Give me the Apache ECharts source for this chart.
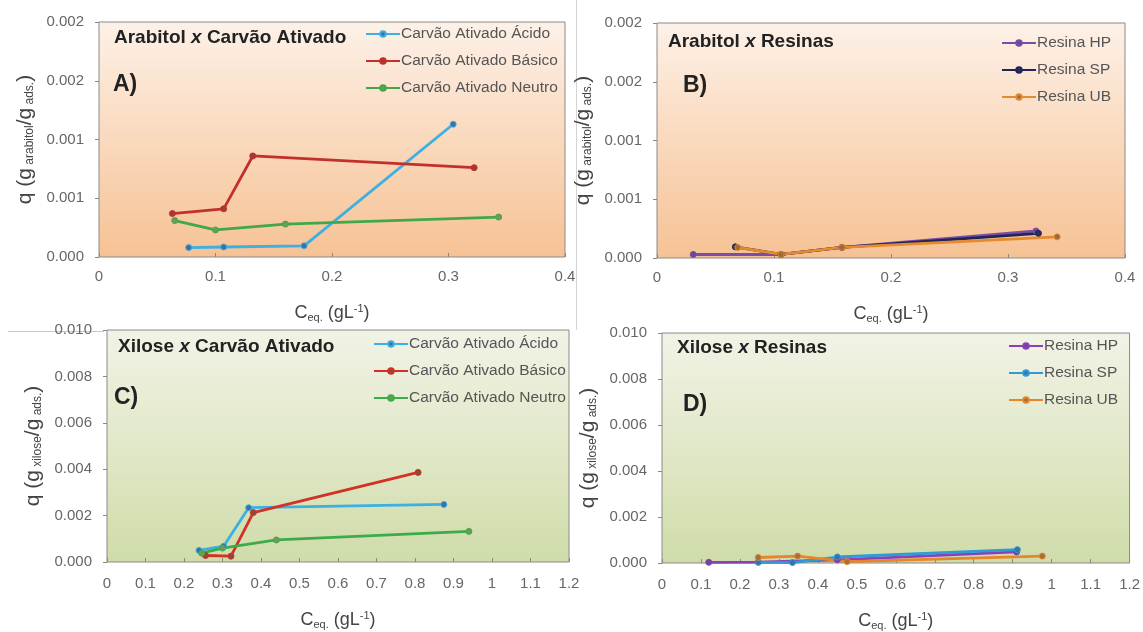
<!DOCTYPE html>
<html>
<head>
<meta charset="utf-8">
<script src="https://cdn.jsdelivr.net/npm/echarts@6/dist/echarts.min.js"></script>
<style>
html,body{margin:0;padding:0;background:#fff;}
#c{width:1143px;height:632px;}
</style>
</head>
<body>
<div id="c"></div>
<script>
// ---- Data ----
// Panel A: Arabitol x Carvão Ativado
const aAcidoX  = [0.077, 0.107, 0.176, 0.304];
const aAcidoY  = [0.00008, 0.000085, 0.000095, 0.00113];
const aBasicoX = [0.063, 0.107, 0.132, 0.322];
const aBasicoY = [0.00037, 0.00041, 0.00086, 0.00076];
const aNeutroX = [0.065, 0.100, 0.160, 0.343];
const aNeutroY = [0.00031, 0.00023, 0.00028, 0.00034];
// Panel B: Arabitol x Resinas
const bHPX = [0.031, 0.106, 0.158, 0.324];
const bHPY = [0.00003, 0.00003, 0.00009, 0.00023];
const bSPX = [0.067, 0.106, 0.158, 0.326];
const bSPY = [0.000095, 0.00003, 0.00009, 0.00021];
const bUBX = [0.069, 0.106, 0.158, 0.342];
const bUBY = [0.00009, 0.00003, 0.00009, 0.00018];
// Panel C: Xilose x Carvão Ativado
const cAcidoX  = [0.239, 0.303, 0.368, 0.875];
const cAcidoY  = [0.0005, 0.00068, 0.00234, 0.00248];
const cBasicoX = [0.256, 0.322, 0.380, 0.808];
const cBasicoY = [0.00028, 0.00025, 0.00213, 0.00386];
const cNeutroX = [0.246, 0.300, 0.440, 0.940];
const cNeutroY = [0.00038, 0.0006, 0.00095, 0.00132];
// Panel D: Xilose x Resinas
const dHPX = [0.12, 0.247, 0.45, 0.91];
const dHPY = [0.00003, 0.00004, 0.00014, 0.00048];
const dSPX = [0.247, 0.335, 0.45, 0.912];
const dSPY = [0.00003, 0.00002, 0.00026, 0.00058];
const dUBX = [0.247, 0.348, 0.475, 0.976];
const dUBY = [0.00024, 0.0003, 0.00006, 0.0003];

// Tick labels
const xTicksAB = ['0', '0.1', '0.2', '0.3', '0.4'];
const xTicksCD = ['0', '0.1', '0.2', '0.3', '0.4', '0.5', '0.6', '0.7', '0.8', '0.9', '1', '1.1', '1.2'];
const yTicksAB = ['0.000', '0.001', '0.001', '0.002', '0.002'];
const yTicksCD = ['0.000', '0.002', '0.004', '0.006', '0.008', '0.010'];

const seriesNamesCarvao = ['Carvão Ativado Ácido', 'Carvão Ativado Básico', 'Carvão Ativado Neutro'];
const seriesNamesResina = ['Resina HP', 'Resina SP', 'Resina UB'];

// ---- Chart ----
const chart = echarts.init(document.getElementById('c'), null, {renderer: 'canvas'});
const zip = (xs, ys) => xs.map((x, i) => [x, ys[i]]);
const FONT = 'Liberation Sans, Arial, sans-serif';

const grids = [
  {left: 99,  top: 22,  width: 466, height: 235},
  {left: 657, top: 23,  width: 468, height: 235},
  {left: 107, top: 330, width: 462, height: 232},
  {left: 662, top: 333, width: 468, height: 234}
];
const orangeBg = new echarts.graphic.LinearGradient(0, 0, 0, 1, [
  {offset: 0, color: '#fdf1e8'}, {offset: 0.5, color: '#fad9bd'}, {offset: 1, color: '#f6c294'}]);
const greenBg = new echarts.graphic.LinearGradient(0, 0, 0, 1, [
  {offset: 0, color: '#f1f3e6'}, {offset: 0.5, color: '#e1e8c8'}, {offset: 1, color: '#cfdca9'}]);

const gridOpts = grids.map((g, i) => Object.assign({}, g, {
  show: true,
  backgroundColor: i < 2 ? orangeBg : greenBg,
  borderColor: '#8a8a8a',
  borderWidth: 1,
  containLabel: false
}));

function xAxis(i) {
  const ab = i < 2;
  const labels = ab ? xTicksAB : xTicksCD;
  return {
    type: 'value', gridIndex: i, min: 0, max: ab ? 0.4 : 1.2, interval: 0.1,
    name: '{n|C}{s|eq.}{n| (gL}{u|-1}{n|)}',
    nameLocation: 'middle', nameGap: ab ? 46 : 48,
    nameTextStyle: {
      rich: {
        n: {fontSize: 18, color: '#444', fontFamily: FONT},
        s: {fontSize: 11, color: '#444', fontFamily: FONT, padding: [9, 0, 0, 0]},
        u: {fontSize: 11, color: '#444', fontFamily: FONT, padding: [0, 0, 9, 0]}
      }
    },
    axisLine: {show: false},
    axisTick: {show: true, inside: true, length: 4, lineStyle: {color: '#888'}},
    splitLine: {show: false},
    axisLabel: {
      margin: ab ? 12 : 14, color: '#666', fontSize: 15, fontFamily: FONT,
      formatter: v => labels[Math.round(v / 0.1)]
    }
  };
}
function yAxis(i) {
  const ab = i < 2;
  const labels = ab ? yTicksAB : yTicksCD;
  const step = ab ? 0.0005 : 0.002;
  const sugar = ab ? 'arabitol' : 'xilose';
  return {
    type: 'value', gridIndex: i, min: 0, max: ab ? 0.002 : 0.010, interval: step,
    name: '{n|q (g}{s| ' + sugar + '}{n|/g}{s| ads.}{n|)}',
    nameLocation: 'middle', nameGap: 63,
    nameTextStyle: {
      rich: {
        n: {fontSize: 21, color: '#444', fontFamily: FONT},
        s: {fontSize: 12, color: '#444', fontFamily: FONT, padding: [10, 0, 0, 0]}
      }
    },
    axisLine: {show: false},
    axisTick: {show: true, inside: false, length: 4, lineStyle: {color: '#888'}},
    splitLine: {show: false},
    axisLabel: {
      margin: 15, color: '#666', fontSize: 15, fontFamily: FONT,
      formatter: v => labels[Math.round(v / step)]
    }
  };
}

function line(name, gi, xs, ys, lineColor, markColor) {
  return {
    type: 'line', name: name, xAxisIndex: gi, yAxisIndex: gi,
    data: zip(xs, ys),
    symbol: 'circle', symbolSize: 6, showSymbol: true,
    lineStyle: {color: lineColor, width: 2.8},
    itemStyle: {color: markColor, borderColor: lineColor, borderWidth: 1},
    emphasis: {disabled: true},
    z: 3
  };
}
const ZW = '\u200b';
const series = [
  line(seriesNamesCarvao[0], 0, aAcidoX, aAcidoY, '#3cb0e2', '#3d6ea8'),
  line(seriesNamesCarvao[1], 0, aBasicoX, aBasicoY, '#c3302b', '#a03a3a'),
  line(seriesNamesCarvao[2], 0, aNeutroX, aNeutroY, '#40a84a', '#6f9a5c'),
  line(seriesNamesResina[0], 1, bHPX, bHPY, '#7d4ca8', '#6a4a96'),
  line(seriesNamesResina[1], 1, bSPX, bSPY, '#1f2656', '#2a2f55'),
  line(seriesNamesResina[2], 1, bUBX, bUBY, '#e58a2e', '#9a6a3a'),
  line(seriesNamesCarvao[0] + ZW, 2, cAcidoX, cAcidoY, '#3cb0e2', '#3d6ea8'),
  line(seriesNamesCarvao[1] + ZW, 2, cBasicoX, cBasicoY, '#d33028', '#8a4a3a'),
  line(seriesNamesCarvao[2] + ZW, 2, cNeutroX, cNeutroY, '#3cab4a', '#6f9a5c'),
  line(seriesNamesResina[0] + ZW, 3, dHPX, dHPY, '#8c3fb8', '#6a4a96'),
  line(seriesNamesResina[1] + ZW, 3, dSPX, dSPY, '#2e9bd6', '#3d6ea8'),
  line(seriesNamesResina[2] + ZW, 3, dUBX, dUBY, '#e8842a', '#a07040')
];

function legend(names, left, top) {
  return {
    orient: 'vertical', left: left, top: top,
    data: names, itemWidth: 34, itemHeight: 7, itemGap: 11,
    textStyle: {fontSize: 15.5, color: '#555', fontFamily: FONT, padding: [0, 0, 0, -4]},
    selectedMode: false
  };
}

function title(text1, text2, x, y, letter, lx, ly) {
  return [
    {type: 'text', left: x, top: y, z: 10, style: {
      text: '{b|' + text1 + ' }{i|x}{b| ' + text2 + '}',
      rich: {
        b: {fontSize: 19, fontWeight: 'bold', fill: '#222', fontFamily: FONT},
        i: {fontSize: 19, fontWeight: 'bold', fontStyle: 'italic', fill: '#222', fontFamily: FONT}
      }
    }},
    {type: 'text', left: lx, top: ly, z: 10, style: {
      text: letter, fontSize: 23, fontWeight: 'bold', fill: '#222', fontFamily: FONT
    }}
  ];
}

chart.setOption({
  animation: false,
  backgroundColor: '#ffffff',
  grid: gridOpts,
  xAxis: [0, 1, 2, 3].map(xAxis),
  yAxis: [0, 1, 2, 3].map(yAxis),
  legend: [
    legend(seriesNamesCarvao, 360, 21),
    legend(seriesNamesResina, 996, 30),
    legend(seriesNamesCarvao.map(n => n + ZW), 368, 331),
    legend(seriesNamesResina.map(n => n + ZW), 1003, 333)
  ],
  series: series,
  graphic: [].concat(
    title('Arabitol', 'Carvão Ativado', 114, 28, 'A)', 113, 73),
    title('Arabitol', 'Resinas', 668, 32, 'B)', 683, 74),
    title('Xilose', 'Carvão Ativado', 118, 337, 'C)', 114, 386),
    title('Xilose', 'Resinas', 677, 338, 'D)', 683, 393),
    [
      {type: 'line', shape: {x1: 576.5, y1: 0, x2: 576.5, y2: 330}, style: {stroke: '#d4d4d4', lineWidth: 1}},
      {type: 'line', shape: {x1: 8, y1: 331.5, x2: 104, y2: 331.5}, style: {stroke: '#c8c8c8', lineWidth: 1}}
    ]
  )
});
</script>
</body>
</html>
